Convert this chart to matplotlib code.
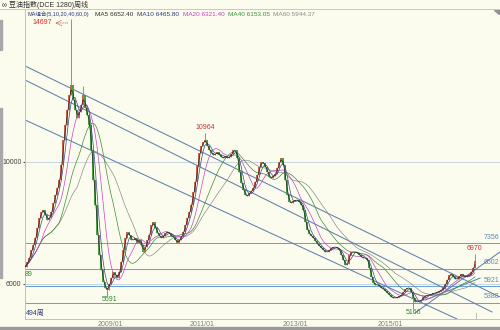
import matplotlib
matplotlib.use('Agg')
import matplotlib.pyplot as plt
import numpy as np
import pandas as pd

plt.rcParams['font.family'] = ['Liberation Sans', 'Noto Sans CJK SC', 'DejaVu Sans']

# Weekly soybean oil index, sampled about every 2 weeks (close prices)
close = [
    6560, 6720, 6850, 7110, 7280, 7510, 7830, 8160, 8360, 8430,
    8260, 8100, 8160, 8360, 8660, 8920, 9150, 9410, 9900, 10720,
    11210, 11710, 12200, 12530, 12030, 11710, 11440, 11640, 11870, 12200,
    11770, 11540, 11210, 10390, 9410, 8590, 7610, 6950, 6460, 6060,
    5870, 5800, 6000, 6200, 6390, 6290, 6200, 6390, 6720, 7110,
    7510, 7700, 7610, 7440, 7440, 7510, 7340, 7440, 7280, 7050,
    7210, 7440, 7610, 7930, 8030, 7830, 7670, 7570, 7510, 7570,
    7670, 7700, 7670, 7570, 7540, 7440, 7340, 7440, 7570, 7700,
    7930, 8160, 8360, 8590, 9020, 9340, 9870, 10300, 10520, 10660,
    10720, 10520, 10390, 10300, 10230, 10260, 10330, 10230, 10160, 10130,
    10200, 10130, 10160, 10260, 10390, 10390, 10130, 9670, 9310, 9080,
    8920, 8880, 8980, 9050, 9150, 9340, 9570, 9840, 10000, 9970,
    9840, 9670, 9510, 9480, 9540, 9610, 9800, 10000, 10130, 9900,
    9410, 8920, 8690, 8660, 8720, 8750, 8750, 8690, 8590, 8430,
    8030, 7770, 7640, 7570, 7510, 7410, 7310, 7240, 7180, 7110,
    7050, 7050, 7110, 7180, 7210, 7210, 7180, 7110, 6950, 6790,
    6620, 6650, 6950, 7050, 7050, 7050, 7020, 6950, 6880, 6850,
    6850, 6790, 6520, 6230, 6030, 5970, 5970, 5930, 5870, 5830,
    5770, 5700, 5640, 5570, 5540, 5540, 5570, 5600, 5640, 5740,
    5830, 5870, 5870, 5740, 5540, 5410, 5410, 5440, 5470, 5570,
    5600, 5640, 5640, 5670, 5700, 5700, 5740, 5770, 5800, 5870,
    6000, 6130, 6290, 6330, 6230, 6160, 6160, 6260, 6330, 6260,
    6230, 6260, 6290, 6400, 6520, 6750,
]

# notable extremes (bar index: price)
spike_high = {23: 14697, 29: 12500, 90: 10964, 225: 6970}
spike_low = {41: 5591, 194: 5166}

levels = [7356, 6502, 5921, 5388]
grid_levels = [6000, 10000]

# down-trend channel lines and up-trend lines: (bar0, price0, bar1, price1)
trend_lines = [
    (0, 13150, 237.5, 5570),
    (0, 12690, 233.5, 5080),
    (0, 11380, 216, 4850),
    (195, 5050, 237.5, 7050),
    (200, 5470, 227.5, 6190),
]

xtick_pos = [42.5, 88.5, 135, 182.5]
xtick_labels = ['2009/01', '2011/01', '2013/01', '2015/01']

ma_periods = [2, 4, 9, 18, 27]          # 5,10,20,40,60 weeks in 2-week bars
ma_colors = ['#262626', '#3a4a80', '#c048c0', '#3c8c3c', '#8c8c8c']
legend_items = [('MA组合(5,10,20,40,60,0)', '#2a3a78', 27, 4.0),
                ('MA5 6652.40', '#303030', 95, 4.6),
                ('MA10 6465.80', '#2a3a78', 137, 4.6),
                ('MA20 6321.40', '#c040c0', 183, 4.6),
                ('MA40 6153.05', '#3c8c3c', 228, 4.6),
                ('MA60 5944.37', '#8c8c8c', 273, 4.6)]

bg = '#fcfcee'
W, H = 500, 330

fig = plt.figure(figsize=(5.0, 3.3), dpi=100, facecolor=bg)
ax = fig.add_axes([25 / W, 1 - 319 / H, 475 / W, 310 / H])
ax.set_facecolor(bg)

c = np.array(close, dtype=float)
x = np.arange(len(c))
o = np.concatenate([[c[0]], c[:-1]])
hi = np.maximum(o, c)
lo = np.minimum(o, c)
for k, v in spike_high.items():
    hi[k] = v
for k, v in spike_low.items():
    lo[k] = v
up = c >= o
col = np.where(up, '#d0604a', '#44a044')

# horizontal reference lines
for g in grid_levels:
    ax.axhline(g, color='#c8d6e0', lw=0.7, zorder=1)
for lv in levels:
    ax.axhline(lv, color='#6aa2d8', lw=0.75, zorder=1)

for x0, y0, x1, y1 in trend_lines:
    ax.plot([x0, x1], [y0, y1], color='#6080a8', lw=0.75, zorder=1)

# candles
ax.vlines(x, lo, hi, colors=col, lw=0.6, zorder=2)
ax.vlines(x, o, c, colors=col, lw=1.4, zorder=2)

# moving averages
s = pd.Series(c)
for n, mc in zip(ma_periods[::-1], ma_colors[::-1]):
    ax.plot(x, s.rolling(n, min_periods=1).mean(), color=mc, lw=0.5, zorder=3)

ax.set_xlim(0, 237.5)
ax.set_ylim(4850, 15018)

for sp in ['top', 'right']:
    ax.spines[sp].set_visible(False)
for sp in ['left', 'bottom']:
    ax.spines[sp].set_color('#c0c0c0')
    ax.spines[sp].set_linewidth(0.7)

ax.set_yticks(grid_levels)
ax.set_yticklabels([str(g) for g in grid_levels])
ax.set_xticks(xtick_pos)
ax.set_xticklabels(xtick_labels)
ax.tick_params(axis='y', labelsize=5, colors='#505050', length=1.5, pad=1)
ax.tick_params(axis='x', labelsize=5, colors='#808080', length=0, pad=1.5)
for t in ax.get_yticklabels():
    t.set_color('#404040')

# value labels
red, green, blue = '#c83232', '#2a8a2a', '#5a8cb8'
ax.text(13.5, 14559, '14697', color=red, fontsize=5, ha='right', va='center')
ax.annotate('', xy=(13.8, 14559), xytext=(22.8, 14559),
            arrowprops=dict(arrowstyle='->', color=red, lw=0.5, ls=':'))
ax.text(90, 11115, '10964', color=red, fontsize=5, ha='center', va='center')
ax.text(224.5, 7146, '6970', color=red, fontsize=5, ha='center', va='center')
ax.text(42.5, 5474, '5591', color=green, fontsize=5, ha='center', va='center')
ax.text(194, 5047, '5166', color=green, fontsize=5, ha='center', va='center')
ax.text(2, 6326, '89', color=green, fontsize=5, ha='center', va='center')
ax.text(0.5, 5047, '494周', color='#2a3a78', fontsize=5, ha='left', va='center')
for lv, yv in zip(levels, [7507, 6687, 6097, 5572]):
    ax.text(237.2, yv, str(lv), color=blue, fontsize=5, ha='right', va='center')

# today marker
ax.plot([225.5, 225.5], [4850, 5047], color='#a0a0a0', lw=0.5)

# header
fig.text(2 / W, 1 - 5 / H, '∞ 豆油指数(DCE 1280)周线', fontsize=5, color='#303030',
         ha='left', va='center')
for txt, tc, px, fs in legend_items:
    fig.text(px / W, 1 - 14 / H, txt, fontsize=fs, color=tc, ha='left', va='center')
fig.add_artist(plt.Line2D([0, 1], [1 - 9 / H, 1 - 9 / H], color='#c8c8c8', lw=0.7))

# window chrome: bottom bar and left scroll strip
fig.add_artist(plt.Rectangle((0, 0), 1, 3 / H, color='#9a9a9a', transform=fig.transFigure))
fig.add_artist(plt.Rectangle((0, 1 - 50 / H), 2 / W, 30 / H, color='#a8a8a8', transform=fig.transFigure))
fig.add_artist(plt.Rectangle((0, 1 - 278 / H), 2 / W, 170 / H, color='#a8a8a8', transform=fig.transFigure))
fig.add_artist(plt.Polygon([[494 / W, 1 - 10 / H], [499 / W, 1 - 10 / H], [499 / W, 1 - 14 / H]],
                           color='#909090', transform=fig.transFigure))

plt.savefig('out.png', dpi=100, facecolor=bg)
